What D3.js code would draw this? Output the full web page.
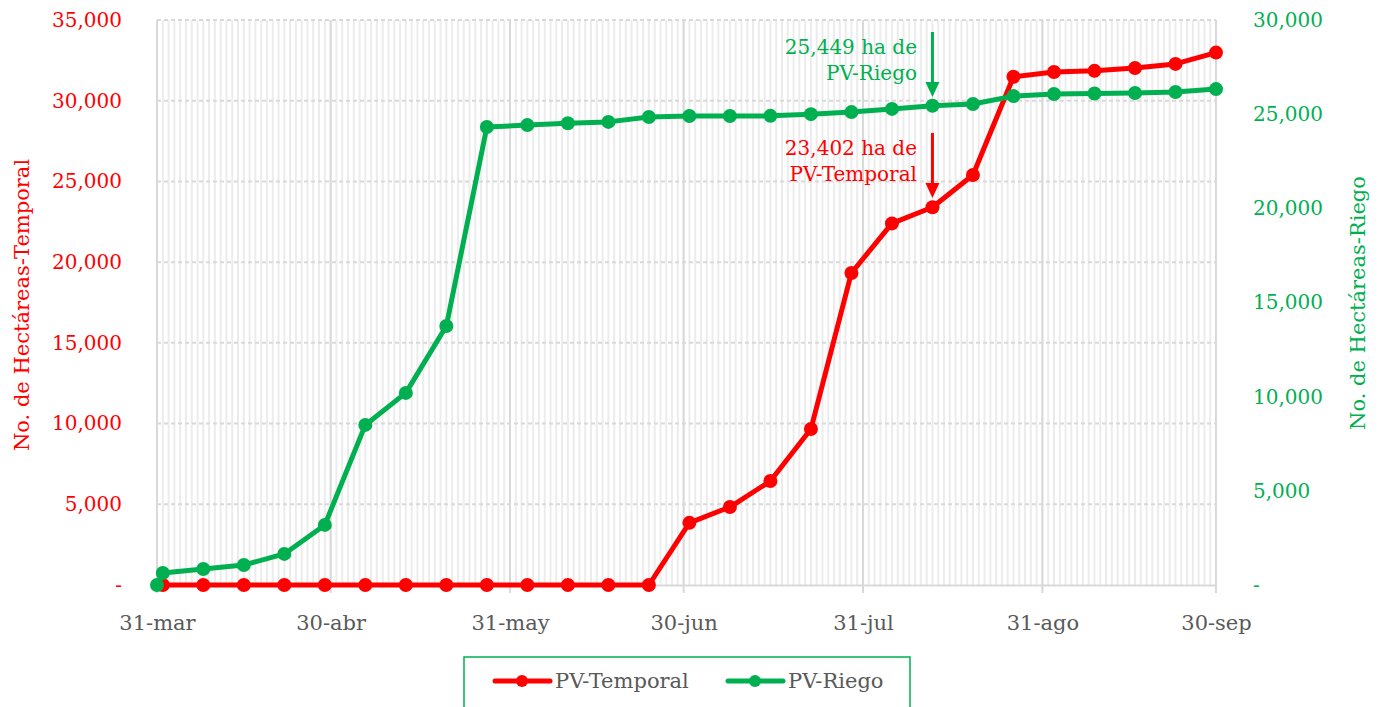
<!DOCTYPE html>
<html>
<head>
<meta charset="utf-8">
<script src="https://cdn.jsdelivr.net/npm/d3@7"></script>
<style>
  body { margin: 0; background: #fff; }
  text { font-family: "DejaVu Serif", serif; }
</style>
</head>
<body>
<svg id="chart" width="1378" height="707"></svg>
<script>
// data
const temporalDates = ['2020-04-01','2020-04-08','2020-04-15','2020-04-22','2020-04-29','2020-05-06','2020-05-13',
  '2020-05-20','2020-05-27','2020-06-03','2020-06-10','2020-06-17','2020-06-24','2020-07-01','2020-07-08',
  '2020-07-15','2020-07-22','2020-07-29','2020-08-05','2020-08-12','2020-08-19','2020-08-26','2020-09-02',
  '2020-09-09','2020-09-16','2020-09-23','2020-09-30'];
const temporalValues = [0,0,0,0,0,0,0,0,0,0,0,0,0,3850,4830,6440,9660,19330,22400,23402,25400,31480,31780,
  31850,32020,32280,32980];
const riegoDates = ['2020-03-31'].concat(temporalDates);
const riegoValues = [0,640,850,1060,1650,3190,8500,10200,13750,24320,24420,24520,24590,24850,24900,24900,
  24910,25000,25110,25280,25449,25540,25960,26070,26100,26120,26180,26330];
const tickDates = ['2020-03-31','2020-04-30','2020-05-31','2020-06-30','2020-07-31','2020-08-31','2020-09-30'];
const tickLabels = ['31-mar','30-abr','31-may','30-jun','31-jul','31-ago','30-sep'];
const leftTicks = [0,5000,10000,15000,20000,25000,30000,35000];
const rightTicks = [0,5000,10000,15000,20000,25000,30000];

const red = '#ff0000', green = '#00b050', grid = '#d9d9d9', minor = '#ececec', txt = '#595959';
const parse = d3.utcParse('%Y-%m-%d');
const fmt = d3.format(',');

const svg = d3.select('#chart');
const x = d3.scaleUtc().domain([parse('2020-03-31'), parse('2020-09-30')]).range([157, 1216]);
const yL = d3.scaleLinear().domain([0, 35000]).range([585, 20]);
const yR = d3.scaleLinear().domain([0, 30000]).range([585, 20]);

// minor daily gridlines
svg.append('g').selectAll('line')
  .data(d3.utcDay.range(parse('2020-03-31'), d3.utcDay.offset(parse('2020-09-30'), 1)))
  .enter().append('line')
  .attr('x1', d => x(d)).attr('x2', d => x(d))
  .attr('y1', yL(35000)).attr('y2', yL(0))
  .attr('stroke', minor).attr('stroke-width', 2);

// horizontal gridlines
svg.append('g').selectAll('line')
  .data(leftTicks.slice(1))
  .enter().append('line')
  .attr('x1', x.range()[0]).attr('x2', x.range()[1])
  .attr('y1', d => yL(d)).attr('y2', d => yL(d))
  .attr('stroke', grid).attr('stroke-width', 2).attr('stroke-dasharray', '4,3');

// major vertical gridlines
svg.append('g').selectAll('line')
  .data(tickDates.map(parse))
  .enter().append('line')
  .attr('x1', d => x(d)).attr('x2', d => x(d))
  .attr('y1', yL(35000)).attr('y2', yL(0) + 8)
  .attr('stroke', grid).attr('stroke-width', 2);

// x axis
const xAxis = d3.axisBottom(x).tickValues(tickDates.map(parse))
  .tickFormat((d, i) => tickLabels[i]).tickSize(0).tickPadding(30);
const gx = svg.append('g').attr('transform', 'translate(0,' + yL(0) + ')').call(xAxis);
gx.select('.domain').attr('stroke', grid).attr('stroke-width', 2);
gx.selectAll('text').attr('fill', txt).style('font-size', '21px');

// left axis
const gl = svg.append('g').attr('transform', 'translate(125,0)')
  .call(d3.axisLeft(yL).tickValues(leftTicks).tickSize(0).tickFormat(d => d === 0 ? '-' : fmt(d)));
gl.select('.domain').remove();
gl.selectAll('text').attr('fill', red).style('font-size', '20px').attr('dy', '0.32em');

// right axis
const gr = svg.append('g').attr('transform', 'translate(1250,0)')
  .call(d3.axisRight(yR).tickValues(rightTicks).tickSize(0).tickFormat(d => d === 0 ? '-' : fmt(d)));
gr.select('.domain').remove();
gr.selectAll('text').attr('fill', green).style('font-size', '20px').attr('dy', '0.32em');

// axis titles
svg.append('text').attr('transform', 'translate(29,305) rotate(-90)').attr('text-anchor', 'middle')
  .attr('fill', red).style('font-size', '21px').text('No. de Hectáreas-Temporal');
svg.append('text').attr('transform', 'translate(1365,303) rotate(-90)').attr('text-anchor', 'middle')
  .attr('fill', green).style('font-size', '21px').text('No. de Hectáreas-Riego');

// series
function drawSeries(dates, values, y, color) {
  const pts = dates.map((d, i) => ({ date: parse(d), value: values[i] }));
  const line = d3.line().x(d => x(d.date)).y(d => y(d.value));
  const g = svg.append('g');
  g.append('path').datum(pts).attr('d', line).attr('fill', 'none')
    .attr('stroke', color).attr('stroke-width', 5).attr('stroke-linejoin', 'round');
  g.selectAll('circle').data(pts).enter().append('circle')
    .attr('cx', d => x(d.date)).attr('cy', d => y(d.value)).attr('r', 7).attr('fill', color);
}
drawSeries(temporalDates, temporalValues, yL, red);
drawSeries(riegoDates, riegoValues, yR, green);

// annotations
function annotate(dateStr, yTop, yTip, lines, color) {
  const ax = x(parse(dateStr));
  svg.append('line').attr('x1', ax).attr('x2', ax).attr('y1', yTop).attr('y2', yTip - 12)
    .attr('stroke', color).attr('stroke-width', 3);
  svg.append('path').attr('d', `M${ax - 7},${yTip - 15}L${ax + 7},${yTip - 15}L${ax},${yTip}Z`).attr('fill', color);
  lines.forEach((t, i) => {
    svg.append('text').attr('x', 917).attr('y', yTop + 22 + i * 26).attr('text-anchor', 'end')
      .attr('fill', color).style('font-size', '20px').text(t);
  });
}
annotate('2020-08-12', 32, 97, ['25,449 ha de', 'PV-Riego'], green);
annotate('2020-08-12', 133, 198, ['23,402 ha de', 'PV-Temporal'], red);

// legend
const lg = svg.append('g');
lg.append('rect').attr('x', 464).attr('y', 657).attr('width', 446).attr('height', 60)
  .attr('fill', 'none').attr('stroke', green).attr('stroke-width', 1.5);
[{ name: 'PV-Temporal', color: red, x: 495 }, { name: 'PV-Riego', color: green, x: 728 }].forEach(s => {
  lg.append('line').attr('x1', s.x).attr('x2', s.x + 55).attr('y1', 681).attr('y2', 681)
    .attr('stroke', s.color).attr('stroke-width', 5).attr('stroke-linecap', 'round');
  lg.append('circle').attr('cx', s.x + 27).attr('cy', 681).attr('r', 6).attr('fill', s.color);
  lg.append('text').attr('x', s.x + 60).attr('y', 681).attr('dy', '0.35em')
    .attr('fill', txt).style('font-size', '21px').text(s.name);
});
</script>
</body>
</html>
